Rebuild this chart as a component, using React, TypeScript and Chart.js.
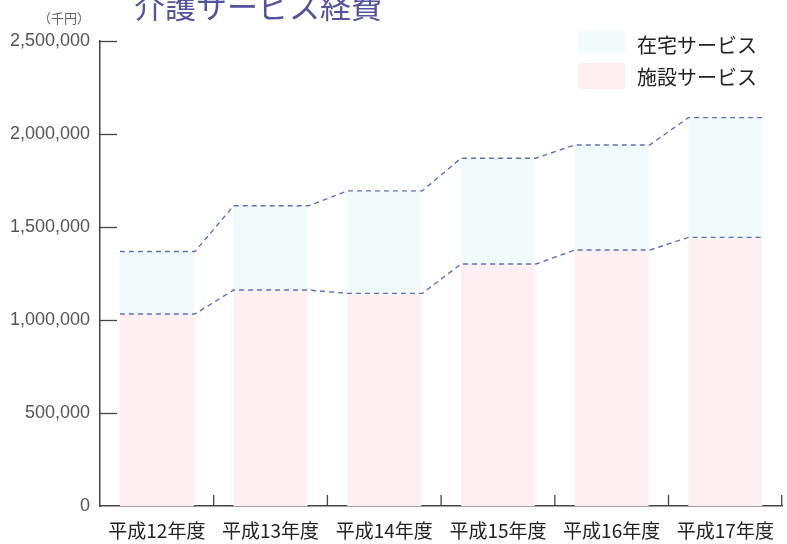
import React, { useEffect, useRef } from "react";
import { Chart, registerables } from "chart.js";

Chart.register(...registerables);

const categories = ["平成12年度", "平成13年度", "平成14年度", "平成15年度", "平成16年度", "平成17年度"];
// 千円
const facilityValues = [1032000, 1161000, 1143000, 1301000, 1376000, 1444000];
const homeValues = [336000, 453000, 551000, 569000, 565000, 644000];
const yTicks = [0, 500000, 1000000, 1500000, 2000000, 2500000];

const titleText = "介護サービス経費";
const unitText = "（千円）";
const homeColor = "#f1fbfb";
const facilityColor = "#fdeff2";
const legendItems = [
  { label: "在宅サービス", color: homeColor },
  { label: "施設サービス", color: facilityColor },
];

const JP = '"Noto Sans CJK JP", "Noto Sans", sans-serif';

const overlayPlugin = {
  id: "overlay",
  afterDatasetsDraw(chart: any) {
    const ctx = chart.ctx;
    ctx.save();
    ctx.strokeStyle = "#5f70bf";
    ctx.lineWidth = 1.4;
    ctx.setLineDash([5, 4]);
    for (const dsIndex of [0, 1]) {
      const meta = chart.getDatasetMeta(dsIndex);
      ctx.beginPath();
      meta.data.forEach((el: any, i: number) => {
        const left = el.x - el.width / 2;
        const right = el.x + el.width / 2;
        if (i === 0) ctx.moveTo(left, el.y);
        else ctx.lineTo(left, el.y);
        ctx.lineTo(right + 1, el.y);
      });
      ctx.stroke();
    }
    ctx.restore();
  },
  afterDraw(chart: any) {
    const ctx = chart.ctx;
    const { left, right, bottom } = chart.chartArea;
    const y = chart.scales.y;
    const x = chart.scales.x;
    ctx.save();
    ctx.strokeStyle = "#444";
    ctx.lineWidth = 1.3;
    yTicks.forEach((v) => {
      if (v === 0) return;
      const py = Math.round(y.getPixelForValue(v)) + 0.5;
      ctx.beginPath();
      ctx.moveTo(left, py);
      ctx.lineTo(left + 17, py);
      ctx.stroke();
    });
    for (let i = 1; i <= categories.length; i++) {
      const px =
        i < categories.length
          ? (x.getPixelForValue(i - 1) + x.getPixelForValue(i)) / 2
          : right - 0.5;
      ctx.beginPath();
      ctx.moveTo(px, bottom);
      ctx.lineTo(px, bottom - 11);
      ctx.stroke();
    }
    // title
    ctx.fillStyle = "#54549e";
    ctx.font = `31px ${JP}`;
    ctx.textBaseline = "alphabetic";
    ctx.textAlign = "left";
    ctx.fillText(titleText, 134, 18);
    // unit
    ctx.fillStyle = "#666";
    ctx.font = `13px ${JP}`;
    ctx.textBaseline = "middle";
    ctx.fillText(unitText, 38, 18);
    // legend
    legendItems.forEach((item, i) => {
      const by = i === 0 ? 31 : 63;
      const bh = i === 0 ? 22 : 26;
      ctx.fillStyle = item.color;
      ctx.fillRect(578, by, 47, bh);
      ctx.fillStyle = "#222";
      ctx.font = `20px ${JP}`;
      ctx.textBaseline = "middle";
      ctx.fillText(item.label, 637, i === 0 ? 45 : 77);
    });
    ctx.restore();
  },
};

export default function App() {
  const ref = useRef<HTMLCanvasElement>(null);
  useEffect(() => {
    if (!ref.current) return;
    const chart = new Chart(ref.current, {
      type: "bar",
      data: {
        labels: categories,
        datasets: [
          {
            label: "施設サービス",
            data: facilityValues,
            backgroundColor: facilityColor,
            borderWidth: 0,
            stack: "s",
          },
          {
            label: "在宅サービス",
            data: homeValues,
            backgroundColor: homeColor,
            borderWidth: 0,
            stack: "s",
          },
        ],
      },
      options: {
        responsive: false,
        animation: false,
        layout: { padding: { top: 41, right: 1, left: 0, bottom: 0 } },
        plugins: {
          legend: { display: false },
          tooltip: { enabled: false },
          title: { display: false },
        },
        datasets: { bar: { categoryPercentage: 1, barPercentage: 0.65 } },
        scales: {
          x: {
            stacked: true,
            offset: true,
            grid: { display: false, drawTicks: false },
            border: { display: true, color: "#444", width: 1.5 },
            ticks: {
              color: "#222",
              padding: 13,
              font: { family: JP, size: 19 },
              maxRotation: 0,
              autoSkip: false,
            },
            afterFit: (s: any) => {
              s.height = 38;
            },
          },
          y: {
            stacked: true,
            min: 0,
            max: 2500000,
            grid: { display: false, drawTicks: false },
            border: { display: true, color: "#444", width: 1.5 },
            ticks: {
              stepSize: 500000,
              padding: 10,
              color: "#555",
              font: { family: '"Liberation Sans", Arial, sans-serif', size: 18 },
              callback: (v: any) => Number(v).toLocaleString("en-US"),
            },
            afterFit: (s: any) => {
              s.width = 100;
            },
          },
        },
      },
      plugins: [overlayPlugin],
    });
    return () => chart.destroy();
  }, []);
  return (
    <div style={{ position: "absolute", left: 0, top: 0, width: 787, height: 544, background: "#fff" }}>
      <canvas ref={ref} width={787} height={544} style={{ display: "block" }} />
    </div>
  );
}
